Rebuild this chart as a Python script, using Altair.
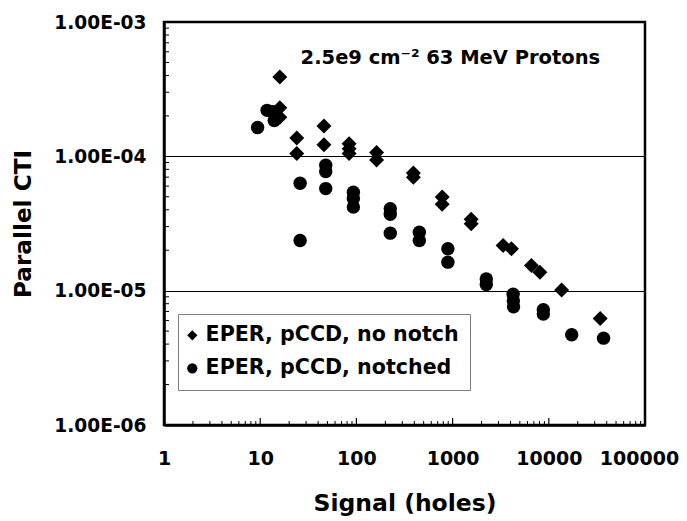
import altair as alt
import pandas as pd

# ---------------- data ----------------
series_names = ["EPER, pCCD, no notch", "EPER, pCCD, notched"]

no_notch_signal = [16, 16, 16, 24, 24, 46, 46, 84, 84, 84, 162, 162, 391, 391,
                   779, 779, 1560, 1560, 3350, 4090, 6600, 8080, 13600, 34200]
no_notch_cti = [3.9e-4, 2.3e-4, 1.95e-4, 1.37e-4, 1.05e-4, 1.68e-4, 1.22e-4,
                1.24e-4, 1.14e-4, 1.05e-4, 1.07e-4, 9.4e-5, 7.5e-5, 7.0e-5,
                4.97e-5, 4.4e-5, 3.4e-5, 3.15e-5, 2.17e-5, 2.05e-5, 1.54e-5,
                1.37e-5, 1.01e-5, 6.2e-6]

notched_signal = [9.4, 11.8, 13.6, 14, 26, 26, 48, 48, 48, 93, 93, 93, 225, 225,
                  225, 451, 451, 893, 893, 2240, 2240, 4260, 4280, 4300, 8770,
                  8770, 17300, 37100]
notched_cti = [1.64e-4, 2.2e-4, 2.15e-4, 1.85e-4, 6.3e-5, 2.36e-5, 8.6e-5,
               7.7e-5, 5.75e-5, 5.4e-5, 4.85e-5, 4.2e-5, 4.07e-5, 3.7e-5,
               2.68e-5, 2.72e-5, 2.36e-5, 2.05e-5, 1.63e-5, 1.22e-5, 1.11e-5,
               9.4e-6, 8.4e-6, 7.6e-6, 7.2e-6, 6.7e-6, 4.7e-6, 4.43e-6]

x_tick_values = [1, 10, 100, 1000, 10000, 100000]
x_major_inner = [10, 100, 1000, 10000]
y_tick_values = [1e-6, 1e-5, 1e-4, 1e-3]
annotation_text = ["2.5e9 cm\u207b\u00b2 63 MeV Protons"]

x_title = "Signal (holes)"
y_title = "Parallel CTI"

# minor tick positions (axis decoration)
minor_x = [m * 10 ** k for k in range(0, 5) for m in range(2, 10)]
minor_y = [m * 10.0 ** k for k in range(-6, -3) for m in range(2, 10)]

# ---------------- layout ----------------
W, H = 481, 403
FONT = "DejaVu Sans"
ANNOT_X, ANNOT_Y = 26.3, 5.4e-4

df = pd.DataFrame({
    "signal": no_notch_signal + notched_signal,
    "cti": no_notch_cti + notched_cti,
    "series": [series_names[0]] * len(no_notch_signal) + [series_names[1]] * len(notched_signal),
})

xscale = alt.Scale(type="log", domain=[1, 100000], nice=False)
yscale = alt.Scale(type="log", domain=[1e-6, 1e-3], nice=False)


def xenc(field, **kw):
    return alt.X(field, scale=xscale, title=x_title, **kw)


def yenc(field, **kw):
    return alt.Y(field, scale=yscale, title=y_title, **kw)


x_axis = alt.Axis(values=x_tick_values, format="d", grid=False,
                  labelOverlap=False, labelFlush=False, labelBound=False,
                  labelOffset={"condition": {"test": "datum.value >= 100000", "value": -6},
                               "value": 0},
                  labelPadding=24, titlePadding=23, labelFontSize=19,
                  titleFontSize=23.5)
y_axis = alt.Axis(values=y_tick_values,
                  labelExpr="'1.00E-0' + round(-log(datum.value)/LN10)",
                  labelOverlap=False,
                  grid=True, gridColor="black", gridWidth=1, gridOpacity=1,
                  labelPadding=18, titlePadding=18, labelFontSize=18.6,
                  titleFontSize=23.2)

points = alt.Chart(df).mark_point(filled=True, opacity=1, color="black").encode(
    x=xenc("signal:Q", axis=x_axis),
    y=yenc("cti:Q", axis=y_axis),
    shape=alt.Shape("series:N",
                    scale=alt.Scale(domain=series_names, range=["diamond", "circle"]),
                    legend=alt.Legend(title=None, orient="none", legendX=14, legendY=292,
                                      labelFont=FONT, labelFontSize=20.6,
                                      labelFontWeight="bold", labelColor="black",
                                      labelLimit=500,
                                      symbolSize=105, symbolFillColor="black",
                                      symbolStrokeColor="black", symbolStrokeWidth=0,
                                      symbolOpacity=1, symbolOffset={"expr": "-7"},
                                      strokeColor="#808080", fillColor="white",
                                      padding=11, rowPadding=12,
                                      labelOffset=3)),
    size=alt.condition(alt.datum.series == series_names[0], alt.value(225), alt.value(180)),
)

xminor = alt.Chart(pd.DataFrame({"signal": minor_x})).mark_rule(color="black", strokeWidth=1).encode(
    x=xenc("signal:Q"), y=alt.value(H), y2=alt.value(H - 4))
xmajor = alt.Chart(pd.DataFrame({"signal": x_major_inner})).mark_rule(color="black", strokeWidth=1.2).encode(
    x=xenc("signal:Q"), y=alt.value(H), y2=alt.value(H - 7))
yminor = alt.Chart(pd.DataFrame({"cti": minor_y})).mark_rule(color="black", strokeWidth=1).encode(
    y=yenc("cti:Q"), x=alt.value(0), x2=alt.value(5))

annot = alt.Chart(pd.DataFrame({"t": annotation_text, "signal": [ANNOT_X], "cti": [ANNOT_Y]})).mark_text(
    font=FONT, fontSize=19.5, fontWeight="bold", color="black", align="left", baseline="middle"
).encode(x=xenc("signal:Q"), y=yenc("cti:Q"), text="t:N")

chart = alt.layer(points, xminor, xmajor, yminor, annot).properties(
    width=W, height=H,
    autosize=alt.AutoSizeParams(type="none"),
    padding={"left": 156, "top": 14, "right": 34, "bottom": 95},
).configure_view(stroke="black", strokeWidth=2.5).configure_axis(
    domainColor="black", domainWidth=2.5, ticks=False,
    labelFont=FONT, labelFontWeight="bold", labelColor="black",
    titleFont=FONT, titleFontWeight="bold", titleColor="black",
)

chart.save("out.html", embed_options={"renderer": "svg", "actions": False})
